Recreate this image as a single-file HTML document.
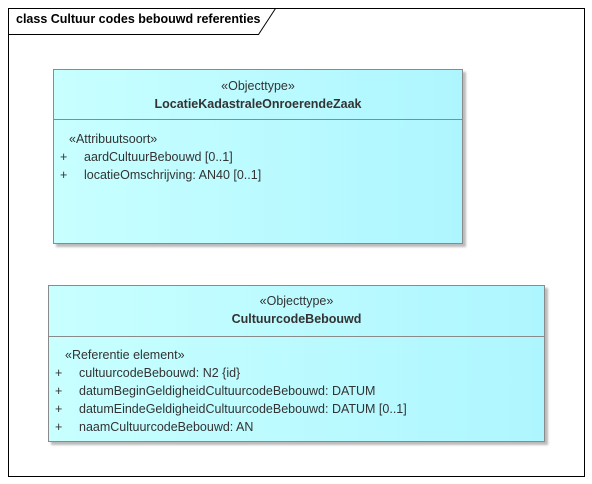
<!DOCTYPE html>
<html><head><meta charset="utf-8"><style>
body{margin:0;width:592px;height:484px;background:#fff;position:relative;overflow:hidden;font-family:"Liberation Sans",sans-serif;color:#333}
.t{position:absolute;font-size:12.5px;white-space:nowrap;line-height:15px}
.box{position:absolute;border:1px solid #8a8a8a;background:linear-gradient(90deg,#c8ffff,#aef6ff);box-shadow:3px 3px 2px #bbb}
.div{position:absolute;left:0;right:0;height:1px;background:#8a8a8a}
.c{text-align:center;left:0;right:0}
</style></head><body>
<svg width="592" height="484" style="position:absolute;left:0;top:0">
<rect x="8.5" y="8.5" width="576" height="468" fill="none" stroke="#000" stroke-width="1"/>
<polyline points="8.5,34.5 258.5,34.5 275.5,8.5" fill="none" stroke="#000" stroke-width="1"/>
</svg>
<div class="t" style="left:16px;top:12px;font-size:12.5px;font-weight:bold;color:#000">class Cultuur codes bebouwd referenties</div>

<div class="box" style="left:53px;top:69px;width:408px;height:173px">
<div class="t c" style="top:9px">«Objecttype»</div>
<div class="t c" style="top:27px;font-weight:bold">LocatieKadastraleOnroerendeZaak</div>
<div class="div" style="top:49px"></div>
<div class="t" style="left:15px;top:62px">«Attribuutsoort»</div>
<div class="t" style="left:6px;top:80px">+</div><div class="t" style="left:30px;top:80px">aardCultuurBebouwd [0..1]</div>
<div class="t" style="left:6px;top:98px">+</div><div class="t" style="left:30px;top:98px">locatieOmschrijving: AN40 [0..1]</div>
</div>

<div class="box" style="left:48px;top:285px;width:495px;height:155px">
<div class="t c" style="top:8px">«Objecttype»</div>
<div class="t c" style="top:26px;font-weight:bold">CultuurcodeBebouwd</div>
<div class="div" style="top:50px"></div>
<div class="t" style="left:16px;top:62px">«Referentie element»</div>
<div class="t" style="left:6px;top:80px">+</div><div class="t" style="left:30px;top:80px">cultuurcodeBebouwd: N2 {id}</div>
<div class="t" style="left:6px;top:98px">+</div><div class="t" style="left:30px;top:98px">datumBeginGeldigheidCultuurcodeBebouwd: DATUM</div>
<div class="t" style="left:6px;top:116px">+</div><div class="t" style="left:30px;top:116px">datumEindeGeldigheidCultuurcodeBebouwd: DATUM [0..1]</div>
<div class="t" style="left:6px;top:134px">+</div><div class="t" style="left:30px;top:134px">naamCultuurcodeBebouwd: AN</div>
</div>
</body></html>
